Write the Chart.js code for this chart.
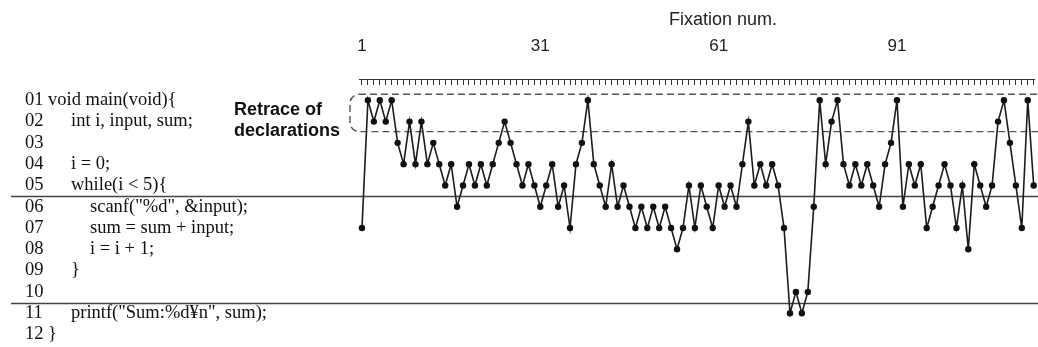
<!DOCTYPE html>
<html>
<head>
<meta charset="utf-8">
<script src="https://cdn.jsdelivr.net/npm/chart.js@4.4.1/dist/chart.umd.min.js"></script>
<style>
  html, body { margin: 0; padding: 0; background: #fff; overflow: hidden; }
  #wrap { width: 1038px; height: 347px; position: relative; }
</style>
</head>
<body>
<div id="wrap"><canvas id="c" width="1038" height="347"></canvas></div>
<script>
// Source line visited at each fixation (1-based line numbers)
const fixationLine = [
  7, 1, 2, 1, 2, 1, 3, 4, 2, 4,
  2, 4, 3, 4, 5, 4, 6, 5, 4, 5,
  4, 5, 4, 3, 2, 3, 4, 5, 4, 5,
  6, 5, 4, 6, 5, 7, 4, 3, 1, 4,
  5, 6, 4, 6, 5, 6, 7, 6, 7, 6,
  7, 6, 7, 8, 7, 5, 7, 5, 6, 7,
  5, 6, 5, 6, 4, 2, 5, 4, 5, 4,
  5, 7, 11, 10, 11, 10, 6, 1, 4, 2,
  1, 4, 5, 4, 5, 4, 5, 6, 4, 3,
  1, 6, 4, 5, 4, 7, 6, 5, 4, 5,
  7, 5, 8, 4, 5, 6, 5, 2, 1, 3,
  5, 7, 1, 5
];

// Labelled fixation numbers on the top axis
const tickLabels = [1, 31, 61, 91];

// Program listing shown down the left side
const lineNumbers = ['01', '02', '03', '04', '05', '06', '07', '08', '09', '10', '11', '12'];
const codeText = [
  'void main(void){',
  'int i, input, sum;',
  '',
  'i = 0;',
  'while(i < 5){',
  'scanf("%d", &input);',
  'sum = sum + input;',
  'i = i + 1;',
  '}',
  '',
  'printf("Sum:%d\u00a5n", sum);',
  '}'
];
const codeIndent = [0, 1, 0, 1, 1, 2, 2, 2, 1, 0, 1, 0];

// Block boundaries (between lines 5/6 and 10/11)
const blockBounds = [5.5, 10.5];

// Declaration lines grouped by the dashed frame
const declLines = [1, 2];

const fixationNums = fixationLine.map((_, i) => i + 1);
const points = fixationLine.map((v, i) => ({ x: fixationNums[i], y: v }));

const indentX = [48, 71, 90];

const overlay = {
  id: 'overlay',
  beforeDatasetsDraw(chart) {
    const ctx = chart.ctx;
    const xs = chart.scales.x, ys = chart.scales.y;
    ctx.save();

    // axis title
    ctx.fillStyle = '#222';
    ctx.font = '18px "Liberation Sans", Arial, sans-serif';
    ctx.textAlign = 'center';
    ctx.textBaseline = 'alphabetic';
    ctx.fillText('Fixation num.', 723, 25);

    // program listing
    ctx.fillStyle = '#111';
    ctx.font = '18.5px "Liberation Serif", "Times New Roman", serif';
    ctx.textAlign = 'left';
    ctx.textBaseline = 'middle';
    lineNumbers.forEach((n, i) => {
      const y = ys.getPixelForValue(i + 1);
      ctx.fillText(n, 25, y);
      if (codeText[i]) ctx.fillText(codeText[i], indentX[codeIndent[i]], y);
    });

    // block separators
    ctx.strokeStyle = '#444';
    ctx.lineWidth = 1.5;
    blockBounds.forEach(b => {
      const y = Math.round(ys.getPixelForValue(b)) + 0.5;
      ctx.beginPath();
      ctx.moveTo(11, y);
      ctx.lineTo(chart.width, y);
      ctx.stroke();
    });

    // dashed frame around the declaration lines
    const top = ys.getPixelForValue(declLines[0]) - 6;
    const bottom = ys.getPixelForValue(declLines[declLines.length - 1]) + 10;
    const left = xs.getPixelForValue(1) - 12;
    const right = chart.width + 20;
    ctx.strokeStyle = '#555';
    ctx.lineWidth = 1.4;
    ctx.setLineDash([7, 4]);
    ctx.beginPath();
    ctx.roundRect(left, top, right - left, bottom - top, 9);
    ctx.stroke();
    ctx.setLineDash([]);

    // frame caption
    ctx.fillStyle = '#111';
    ctx.font = 'bold 18px "Liberation Sans", Arial, sans-serif';
    ctx.textAlign = 'left';
    ctx.textBaseline = 'alphabetic';
    ctx.fillText('Retrace of', 234, 115);
    ctx.fillText('declarations', 234, 136);

    ctx.restore();
  }
};

new Chart(document.getElementById('c'), {
  type: 'line',
  data: {
    datasets: [{
      data: points,
      borderColor: '#1c1c1c',
      borderWidth: 1.6,
      pointRadius: 3.2,
      pointBackgroundColor: '#111',
      pointBorderColor: '#111',
      pointBorderWidth: 0,
      tension: 0,
      clip: false
    }]
  },
  options: {
    responsive: false,
    animation: false,
    devicePixelRatio: 1,
    layout: { padding: { left: 359, right: 0, top: 0, bottom: 0 } },
    plugins: { legend: { display: false }, tooltip: { enabled: false } },
    scales: {
      x: {
        type: 'linear',
        position: 'top',
        min: 0.5,
        max: 114.05,
        afterBuildTicks: s => { s.ticks = fixationNums.map(v => ({ value: v })); },
        afterFit: s => { s.height = 79; },
        grid: { display: true, drawOnChartArea: false, drawTicks: true, tickLength: -6, color: '#333', lineWidth: 1 },
        border: { display: true, color: '#333', width: 1 },
        ticks: {
          autoSkip: false,
          maxRotation: 0,
          padding: 0,
          color: '#222',
          font: { family: '"Liberation Sans", Arial, sans-serif', size: 17, lineHeight: '78px' },
          callback: v => tickLabels.includes(v) ? String(v) : ''
        }
      },
      y: {
        type: 'linear',
        reverse: true,
        min: 0,
        max: 12.4,
        display: false
      }
    }
  },
  plugins: [overlay]
});
</script>
</body>
</html>
